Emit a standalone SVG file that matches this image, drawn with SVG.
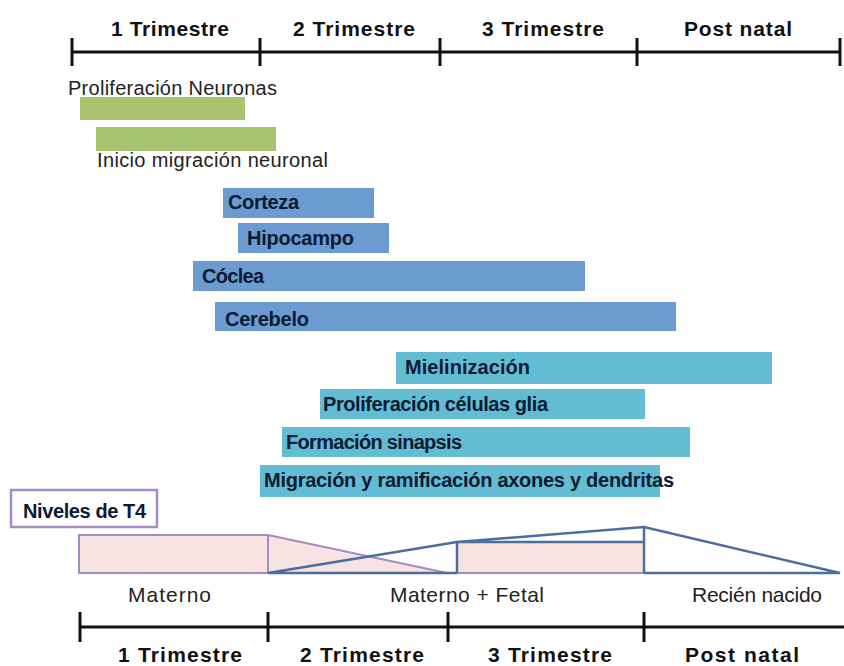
<svg xmlns="http://www.w3.org/2000/svg" width="844" height="666" viewBox="0 0 844 666">
<style>
.ax{stroke:#111;stroke-width:3;fill:none}
.hd{font-family:"Liberation Sans",Arial,sans-serif;font-weight:bold;font-size:21px;fill:#111;text-anchor:middle}
.lb{font-family:"Liberation Sans",Arial,sans-serif;font-size:20px;fill:#222}
.lb2{font-family:"Liberation Sans",Arial,sans-serif;font-size:21px;fill:#222;text-anchor:middle}
.bl{font-family:"Liberation Sans",Arial,sans-serif;font-weight:bold;font-size:20px;fill:#0d1a33}
.g{fill:#a9c46f}
.b{fill:#6b9bd1}
.c{fill:#62bcd4}
.pk{fill:#f6e3e2;stroke:#a58bc6;stroke-width:2}
.bln{fill:none;stroke:#4b6e9e;stroke-width:2.5;stroke-linejoin:miter}
</style>
<rect width="844" height="666" fill="#fff"/>
<g id="top-axis">
<path class="ax" d="M72 52H840M72 38V66M260 38V66M440 38V66M637 38V66M840 38V66"/>
<text class="hd" x="170" y="36" textLength="118">1 Trimestre</text>
<text class="hd" x="354" y="36" textLength="122">2 Trimestre</text>
<text class="hd" x="543" y="36" textLength="122">3 Trimestre</text>
<text class="hd" x="738" y="36" textLength="108">Post natal</text>
</g>
<g id="proliferacion-neuronas">
<rect class="g" x="80" y="97" width="165" height="23"/>
<text class="lb" x="68" y="95" textLength="209">Proliferación Neuronas</text>
</g>
<g id="inicio-migracion">
<rect class="g" x="96" y="127" width="180" height="24"/>
<text class="lb" x="97" y="167" textLength="231">Inicio migración neuronal</text>
</g>
<g id="corteza">
<rect class="b" x="223" y="188" width="151" height="30"/>
<text class="bl" x="228" y="209" textLength="71">Corteza</text>
</g>
<g id="hipocampo">
<rect class="b" x="238" y="223" width="151" height="30"/>
<text class="bl" x="247" y="245" textLength="107">Hipocampo</text>
</g>
<g id="coclea">
<rect class="b" x="193" y="261" width="392" height="30"/>
<text class="bl" x="202" y="283" textLength="62">Cóclea</text>
</g>
<g id="cerebelo">
<rect class="b" x="215" y="302" width="461" height="29"/>
<text class="bl" x="225" y="326" textLength="84">Cerebelo</text>
</g>
<g id="mielinizacion">
<rect class="c" x="396" y="352" width="376" height="32"/>
<text class="bl" x="405" y="374" textLength="125">Mielinización</text>
</g>
<g id="proliferacion-glia">
<rect class="c" x="320" y="389" width="325" height="30"/>
<text class="bl" x="323" y="411" textLength="225">Proliferación células glia</text>
</g>
<g id="formacion-sinapsis">
<rect class="c" x="282" y="427" width="408" height="30"/>
<text class="bl" x="286" y="449" textLength="176">Formación sinapsis</text>
</g>
<g id="migracion-ramificacion">
<rect class="c" x="260" y="465" width="400" height="32"/>
<text class="bl" x="264" y="487" textLength="410">Migración y ramificación axones y dendritas</text>
</g>
<g id="niveles-t4">
<rect x="11" y="490" width="146" height="37" fill="#fff" stroke="#a58bc6" stroke-width="2.5"/>
<text class="bl" x="23" y="518" textLength="123">Niveles de T4</text>
</g>
<g id="t4-chart">
<rect class="pk" x="79" y="535" width="189" height="38"/>
<polygon class="pk" points="268,535 447,573 268,573"/>
<rect class="pk" x="457" y="542" width="187" height="31"/>
<path class="bln" d="M268 573H457M268 573L457 542L644 527L840 573H644M457 542V573M457 542H644M644 527V573"/>
<text class="lb2" x="169.5" y="602" textLength="83">Materno</text>
<text class="lb2" x="467" y="602" textLength="154">Materno + Fetal</text>
<text class="lb2" x="757" y="602" textLength="130">Recién nacido</text>
</g>
<g id="bottom-axis">
<path class="ax" d="M80 627H844M80 612V642M268 612V642M448 612V642M644 612V642"/>
<text class="hd" x="180" y="662" textLength="124">1 Trimestre</text>
<text class="hd" x="362" y="662" textLength="124">2 Trimestre</text>
<text class="hd" x="550" y="662" textLength="124">3 Trimestre</text>
<text class="hd" x="742" y="662" textLength="114">Post natal</text>
</g>
</svg>
